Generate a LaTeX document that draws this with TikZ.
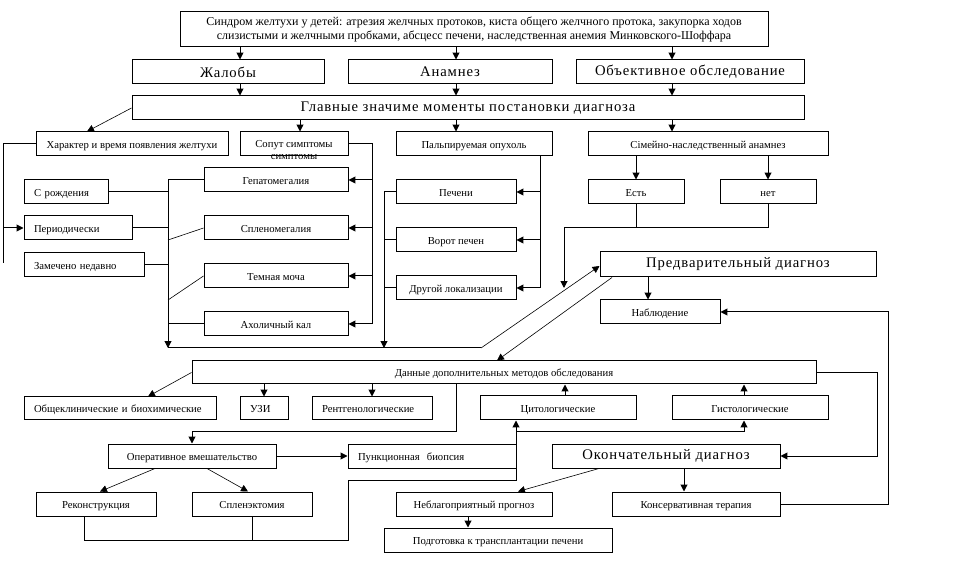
\documentclass[tikz,border=0pt]{standalone}
\usepackage{fontspec}
\setmainfont{Liberation Serif}
\newfontfamily\bigfam[LetterSpace=6]{Liberation Serif}
\usetikzlibrary{arrows.meta}
\newcommand\fs{\fontsize{8}{9.5}\selectfont}
\newcommand\tfs{\fontsize{9}{11.2}\selectfont}
\newcommand\bfs{\bigfam\fontsize{11}{13}\selectfont}
\newcommand\bx[7][]{\node[box,minimum width={(#4-#2)*0.75pt},minimum height={(#5-#3)*0.75pt},#1] (#6) at ({(#2+#4)/2},{(#3+#5)/2}) {#7};}
\newcommand\bxl[7][]{\node[box,inner xsep=7.5pt,text width={(#4-#2-20)*0.75pt},align=left,minimum height={(#5-#3)*0.75pt},#1] (#6) at ({(#2+#4)/2},{(#3+#5)/2}) {#7};}
\begin{document}
\begin{tikzpicture}[x=0.75pt,y=-0.75pt,
  box/.style={draw,line width=0.75pt,inner sep=0pt,font=\fs},
  sm/.style={text height=7.2pt,text depth=1pt},
  ln/.style={line width=0.75pt},
  thn/.style={line width=0.45pt},
  ar/.style={-{Triangle[length=5.2pt,width=5.2pt]}}]
\useasboundingbox[fill=white] (0,0) rectangle (961,577);
% boxes
\bx[font=\tfs,align=center]{180}{12}{768}{47}{title}{Синдром желтухи у детей: атрезия желчных протоков, киста общего желчного протока, закупорка ходов\\слизистыми и желчными пробками, абсцесс печени, наследственная анемия Минковского-Шоффара}
\bx[font=\bfs]{132}{60}{324}{84}{jal}{Жалобы}
\bx[font=\bfs]{348}{60}{552}{84}{anam}{Анамнез}
\bx[font=\bfs]{576}{60}{804}{84}{obj}{Объективное обследование}
\bx[font=\bfs]{132}{96}{804}{120}{glav}{\raisebox{-2pt}{Главные значиме моменты постановки диагноза}}
\bx[sm]{36}{132}{228}{156}{har}{Характер и время появления желтухи}
\bx{240}{132}{348}{156}{sop}{}
\node[font=\fs,align=center,inner sep=0pt] (sopt) at (294,150) {Сопут симптомы\\симптомы};
\bx[sm]{396}{132}{552}{156}{palp}{Пальпируемая опухоль}
\bx[sm]{588}{132}{828}{156}{sem}{Сімейно-наследственный анамнез}
\bxl[sm]{24}{180}{108}{204}{srod}{С рождения}
\bxl[sm]{24}{216}{132}{240}{per}{Периодически}
\bxl[sm]{24}{253}{144}{277}{zam}{Замечено недавно}
\bx[sm]{204}{168}{348}{192}{gep}{Гепатомегалия}
\bx[sm]{204}{216}{348}{240}{spl}{Спленомегалия}
\bx[sm]{204}{264}{348}{288}{tem}{Темная моча}
\bx[sm]{204}{312}{348}{336}{ahol}{Ахоличный кал}
\bx[sm]{396}{180}{516}{204}{pech}{Печени}
\bx[sm]{396}{228}{516}{252}{vor}{Ворот печен}
\bx[sm]{396}{276}{516}{300}{drug}{Другой локализации}
\bx[sm]{588}{180}{684}{204}{est}{Есть}
\bx[sm]{720}{180}{816}{204}{net}{нет}
\bx[font=\bfs]{600}{252}{876}{277}{pred}{Предварительный диагноз}
\bx[sm]{600}{300}{720}{324}{nabl}{Наблюдение}
\bx[sm]{192}{361}{816}{384}{dan}{Данные дополнительных методов обследования}
\bxl[sm]{24}{397}{216}{420}{obsh}{Общеклинические и биохимические}
\bxl[sm]{240}{397}{288}{420}{uzi}{УЗИ}
\bxl[sm]{312}{397}{432}{420}{rent}{Рентгенологические}
\bx[sm]{480}{396}{636}{420}{cit}{Цитологические}
\bx[sm]{672}{396}{828}{420}{gist}{Гистологические}
\bx[sm]{108}{444}{276}{468}{oper}{Оперативное вмешательство}
\bxl[sm]{348}{444}{516}{468}{punk}{Пункционная\ \ биопсия}
\bx[font=\bfs]{552}{444}{780}{468}{okon}{\raisebox{-1pt}{Окончательный диагноз}}
\bx[sm]{36}{492}{156}{516}{rek}{Реконструкция}
\bx[sm]{192}{492}{312}{516}{splen}{Спленэктомия}
\bx[sm]{396}{492}{552}{516}{nebl}{Неблагоприятный прогноз}
\bx[sm]{612}{492}{780}{516}{kons}{Консервативная терапия}
\bx[sm]{384}{528}{612}{552}{podg}{Подготовка к трансплантации печени}
% connectors
\foreach \xx in {240,456,672}{
  \draw[ln,ar] (title.south -| \xx,0) -- (jal.north -| \xx,0);
}
\draw[ln,ar] (jal.south -| 240,0) -- (glav.north -| 240,0);
\draw[ln,ar] (anam.south -| 456,0) -- (glav.north -| 456,0);
\draw[ln,ar] (obj.south -| 672,0) -- (glav.north -| 672,0);
\draw[thn,ar] (glav.west) -- (har.north -| 87,0);
\draw[ln,ar] (glav.south -| 300,0) -- (sop.north -| 300,0);
\draw[ln,ar] (glav.south -| 456,0) -- (palp.north -| 456,0);
\draw[ln,ar] (glav.south -| 672,0) -- (sem.north -| 672,0);
% left
\coordinate (lb) at (3,263);
\draw[ln] (har.west) -| (lb);
\draw[ln,ar] (per.west -| lb) -- (per.west);
\coordinate (mb) at (168,348);
\draw[ln] (srod.east) -- (srod.east -| mb);
\draw[ln] (per.east) -- (per.east -| mb);
\draw[ln] (zam.east) -- (zam.east -| mb);
\draw[ln,ar] (gep.west) -| (mb);
\draw[thn] (spl.west) -- (168,240);
\draw[thn] (tem.west) -- (168,300);
\draw[ln] (ahol.west) -- (ahol.west -| mb);
\coordinate (sr) at (372,324);
\draw[ln] (sop.east) -| (sr);
\foreach \nn in {gep,spl,tem,ahol}{\draw[ln,ar] (\nn.east -| sr) -- (\nn.east);}
\coordinate (pr) at (540,288);
\draw[ln] (palp.south -| pr) -- (pr);
\foreach \nn in {pech,vor,drug}{\draw[ln,ar] (\nn.east -| pr) -- (\nn.east);}
\coordinate (pb) at (384,348);
\draw[ln,ar] (pech.west) -| (pb);
\draw[ln] (vor.west) -- (vor.west -| pb);
\draw[ln] (drug.west) -- (drug.west -| pb);
\coordinate (dg) at (481,348);
\draw[ln] (mb) -- (dg);
\draw[thn,ar] (dg) -- (pred.west |- 0,266);
% family
\draw[ln,ar] (sem.south -| 636,0) -- (est.north -| 636,0);
\draw[ln,ar] (sem.south -| 768,0) -- (net.north -| 768,0);
\coordinate (fj) at (564,228);
\coordinate (fe) at (564,288);
\draw[ln] (est.south -| 636,0) -- (636,228);
\draw[ln] (net.south -| 768,0) -- (768,228) -- (fj);
\draw[ln,ar] (fj) -- (fe);
\draw[thn,ar] (pred.south -| 612,0) -- (dan.north -| 497,0);
\draw[ln,ar] (pred.south -| 648,0) -- (nabl.north -| 648,0);
\draw[ln,ar] (kons.east) -| (888,312) -- (nabl.east);
% lower
\draw[thn,ar] (dan.west) -- (obsh.north -| 148,0);
\draw[ln,ar] (dan.south -| 264,0) -- (uzi.north -| 264,0);
\draw[ln,ar] (dan.south -| 372,0) -- (rent.north -| 372,0);
\draw[ln,ar] (dan.south -| 456,0) -- (456,432) -| (oper.north -| 192,0);
\draw[ln,ar] (oper.east) -- (punk.west);
\draw[ln,ar] (cit.north -| 565,0) -- (dan.south -| 565,0);
\draw[ln,ar] (gist.north -| 744,0) -- (dan.south -| 744,0);
\draw[ln,ar] (dan.east) -| (877,456) -- (okon.east);
\draw[ln,ar] (rek.south -| 84,0) -- (84,540) -- (348,540) -- (348,480) -- (516,480) -- (cit.south -| 516,0);
\draw[ln] (splen.south -| 252,0) -- (252,540);
\draw[ln,ar] (516,432) -| (gist.south -| 744,0);
\draw[thn,ar] (oper.south -| 155,0) -- (rek.north -| 100,0);
\draw[thn,ar] (oper.south -| 207,0) -- (splen.north -| 248,0);
\draw[ln,ar] (okon.south -| 684,0) -- (kons.north -| 684,0);
\draw[thn,ar] (okon.south -| 599,0) -- (nebl.north -| 518,0);
\draw[ln,ar] (nebl.south -| 468,0) -- (podg.north -| 468,0);
\end{tikzpicture}
\end{document}
